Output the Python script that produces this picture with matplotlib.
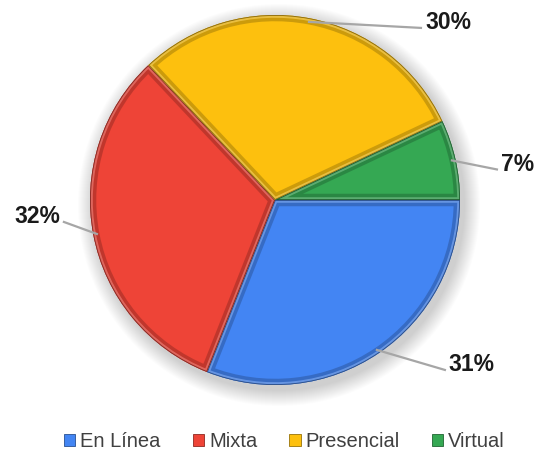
import matplotlib
matplotlib.use("Agg")
import numpy as np
import matplotlib.pyplot as plt
from matplotlib.patches import Wedge, Circle, Patch
from matplotlib.colors import to_rgb

# Modalidad de estudio (porcentajes)
categorias = ["En Línea", "Mixta", "Presencial", "Virtual"]
porcentajes = [31, 32, 30, 7]
colores = ["#4385F3", "#EE4437", "#FDC00E", "#35A853"]

plt.rcParams["font.family"] = ["Liberation Sans", "DejaVu Sans"]

W, H = 542, 455
fig = plt.figure(figsize=(W / 100, H / 100), dpi=100)
fig.patch.set_facecolor("white")
ax = fig.add_axes([0, 0, 1, 1])

cx, cy, r = 275, 255, 185


def shade(c, f):
    rgb = np.array(to_rgb(c))
    if f < 0:
        return tuple(rgb * (1 + f))
    return tuple(rgb + (1 - rgb) * f)


# soft drop shadow behind the pie
for k in range(16):
    ax.add_patch(Circle((cx + 4, cy - 5), r + 16 - k, color="black",
                        alpha=0.012, lw=0, zorder=1))

wedges, _ = ax.pie(porcentajes, colors=colores, startangle=0,
                   counterclock=False, center=(cx, cy), radius=r,
                   frame=True, wedgeprops=dict(linewidth=0, zorder=2))
ax.set_xlim(0, W)
ax.set_ylim(0, H)
ax.set_aspect("equal")
ax.axis("off")

# bevel: dark band along the inside of each slice plus a light inner rim
for w, c in zip(wedges, colores):
    w.set_zorder(2)
    for lw, col, a in [(9, shade(c, -0.35), 0.55), (4, shade(c, 0.35), 0.6),
                       (1.2, shade(c, -0.5), 0.9)]:
        rim = Wedge(w.center, w.r, w.theta1, w.theta2, facecolor="none",
                    edgecolor=col, lw=lw, alpha=a, zorder=3)
        rim.set_clip_path(w)
        ax.add_patch(rim)

# percentage labels with leader lines
offsets = [(68, -20), (-33, 12), (112, -6), (45, -9)]
for w, p, (dx, dy) in zip(wedges, porcentajes, offsets):
    mid = np.deg2rad((w.theta1 + w.theta2) / 2)
    x0 = cx + r * 0.98 * np.cos(mid)
    y0 = cy + r * 0.98 * np.sin(mid)
    x1, y1 = x0 + dx, y0 + dy
    ax.plot([x0, x1], [y0, y1], color="#A6A6A6", lw=1.6, zorder=4)
    ha = "left" if dx > 0 else "right"
    ax.text(x1 + (4 if dx > 0 else -4), y1 + 5, f"{p}%", ha=ha, va="center",
            fontsize=16.5, fontweight="bold", color="#1A1A1A", zorder=5)

handles = [Patch(facecolor=c, edgecolor=shade(c, -0.4), lw=0.6) for c in colores]
fig.legend(handles, categorias, loc="center", bbox_to_anchor=(0.525, 0.03),
           ncol=4, frameon=False, fontsize=14.5, handlelength=0.55,
           handleheight=0.55, handletextpad=0.25, columnspacing=1.6,
           labelcolor="#404040")

fig.savefig("out.png", dpi=100, facecolor="white")
